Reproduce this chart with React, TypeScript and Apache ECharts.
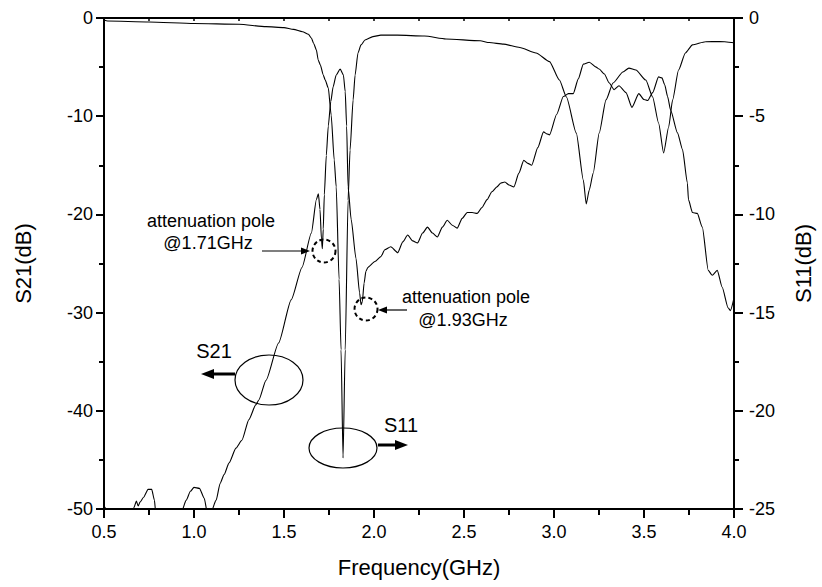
import React, { useEffect, useRef } from "react";
import * as echarts from "echarts";

// S21 (left axis, dB)
const s21Freq = [
  0.5, 0.505, 0.515, 0.55, 0.62, 0.655, 0.665, 0.68, 0.69, 0.7, 0.72, 0.745, 0.765, 0.78, 0.787, 0.82,
  0.9, 0.93, 0.957, 0.98, 1.0, 1.03, 1.057, 1.073, 1.085, 1.095, 1.123, 1.145, 1.167, 1.195, 1.233,
  1.266, 1.305, 1.343, 1.36, 1.4, 1.47, 1.54, 1.6, 1.652, 1.68, 1.691, 1.7, 1.708, 1.713, 1.718,
  1.724, 1.735, 1.746, 1.76, 1.773, 1.79, 1.812, 1.83, 1.84, 1.848, 1.856, 1.873, 1.9, 1.92, 1.928,
  1.935, 1.945, 1.955, 1.966, 2.005, 2.038, 2.06, 2.093, 2.132, 2.16, 2.187, 2.215, 2.242, 2.27,
  2.297, 2.325, 2.352, 2.38, 2.407, 2.435, 2.462, 2.49, 2.518, 2.545, 2.573, 2.6, 2.628, 2.655,
  2.683, 2.705, 2.727, 2.75, 2.777, 2.805, 2.832, 2.855, 2.876, 2.91, 2.942, 2.96, 2.975, 3.015,
  3.052, 3.08, 3.107, 3.135, 3.163, 3.196, 3.234, 3.251, 3.28, 3.306, 3.334, 3.361, 3.4, 3.433,
  3.471, 3.5, 3.521, 3.548, 3.581, 3.6, 3.615, 3.631, 3.648, 3.686, 3.714, 3.741, 3.747, 3.769,
  3.796, 3.824, 3.857, 3.879, 3.907, 3.934, 3.967, 3.98, 4.0,
];
const s21Db = [
  -50.3, -49.8, -50.3, -53, -54, -50.3, -49.9, -49.2, -49.7, -49.3, -48.8, -48.0, -48.0, -49.1, -50.3, -54,
  -53, -50.3, -49.1, -48.2, -47.8, -47.9, -48.9, -50.3, -51, -50.3, -49.1, -47.4, -46.5, -45.3, -43.8,
  -43.0, -40.9, -39.4, -38.9, -36.9, -33.1, -28.7, -25.4, -21.9, -18.5, -17.9, -19.5, -22.5, -23.5, -21.5,
  -18, -14, -11, -8.5, -7, -5.8, -5.2, -5.8, -7.5, -11, -17.2, -20.5, -24.5, -28.0, -29.2,
  -28.9, -27.0, -25.8, -25.4, -24.8, -24.3, -23.6, -23.3, -23.9, -22.8, -22.1, -22.7, -22.9, -21.9,
  -21.3, -21.9, -22.3, -21.3, -20.6, -21.1, -21.4, -20.4, -19.8, -19.8, -19.9, -19.3, -18.5, -17.7,
  -17.2, -16.8, -16.7, -17.0, -17.2, -15.8, -14.5, -14.8, -15.0, -13.2, -11.6, -11.8, -11.9, -9.8,
  -8.0, -7.7, -7.7, -6.2, -4.7, -4.5, -5.0, -5.2, -5.7, -6.6, -7.3, -6.9, -7.6, -9.1,
  -7.7, -8.3, -8.4, -7.6, -6.0, -6.1, -6.8, -8.0, -9.4, -11.7, -13.4, -16.8, -18.5, -19.8,
  -19.9, -21.3, -25.7, -26.2, -25.7, -27.4, -29.5, -29.8, -28.5,
];

// S11 (right axis, dB)
const s11Freq = [
  0.5, 0.52, 0.75, 1.0, 1.25, 1.4, 1.5, 1.553, 1.603, 1.636, 1.652, 1.665, 1.68, 1.69, 1.702, 1.718,
  1.729, 1.746, 1.762, 1.779, 1.79, 1.806, 1.817, 1.828, 1.84, 1.856, 1.867, 1.884, 1.895, 1.911,
  1.928, 1.95, 1.994, 2.038, 2.13, 2.28, 2.4, 2.59, 2.64, 2.72, 2.81, 2.9, 2.975, 3.03, 3.069,
  3.124, 3.163, 3.179, 3.196, 3.218, 3.251, 3.289, 3.328, 3.383, 3.416, 3.455, 3.51, 3.548, 3.581,
  3.609, 3.637, 3.659, 3.692, 3.73, 3.769, 3.841, 3.92, 4.0,
];
const s11Db = [
  -0.1, -0.15, -0.2, -0.28, -0.32, -0.44, -0.49, -0.58, -0.7, -0.83, -1.02, -1.3, -1.63, -2.14, -2.39, -2.9,
  -3.16, -3.56, -4.94, -7.23, -8.6, -13.3, -16.9, -22.4, -16.9, -9.27, -6.72, -4.17, -2.9, -1.78,
  -1.37, -1.12, -0.95, -0.87, -0.87, -0.92, -1.07, -1.16, -1.25, -1.33, -1.5, -1.78, -2.22, -3.16, -4.02,
  -5.86, -8.25, -9.47, -8.76, -7.89, -5.86, -4.17, -3.31, -2.75, -2.55, -2.65, -3.16, -4.02, -5.35,
  -6.87, -5.55, -4.17, -2.65, -1.78, -1.37, -1.21, -1.2, -1.26,
];

const xTickLabels = ["0.5", "1.0", "1.5", "2.0", "2.5", "3.0", "3.5", "4.0"];

const FONT = "'Liberation Sans', Arial, sans-serif";

export default function App() {
  const ref = useRef<HTMLDivElement>(null);

  useEffect(() => {
    if (!ref.current) return;
    const chart = echarts.init(ref.current, null, { renderer: "svg" });

    const mkLine = () => ({ show: true, onZero: false, lineStyle: { color: "#000000", width: 2 } });
    const mkTick = (len: number, inside = false, w = 2) => ({
      show: true,
      inside,
      length: len,
      lineStyle: { color: "#000000", width: w },
    });
    const mkMinor = (len: number) => ({
      show: true,
      splitNumber: 2,
      length: len,
      lineStyle: { color: "#000000", width: 2 },
    });
    const labelStyle = { color: "#000", fontSize: 18, fontFamily: FONT };
    const nameStyle = { color: "#000", fontSize: 22, fontFamily: FONT };

    const txt = (x: number, y: number, text: string, size = 18) => ({
      type: "text",
      x,
      y,
      style: { text, fill: "#000", font: `${size}px ${FONT}`, align: "center", verticalAlign: "middle" },
      z: 100,
    });
    const line = (x1: number, y1: number, x2: number, y2: number, w: number) => ({
      type: "line",
      shape: { x1, y1, x2, y2 },
      style: { stroke: "#000", lineWidth: w },
      z: 100,
    });
    const head = (pts: number[][]) => ({
      type: "polygon",
      shape: { points: pts },
      style: { fill: "#000" },
      z: 100,
    });

    chart.setOption({
      animation: false,
      backgroundColor: "#fff",
      grid: { left: 104, right: 83, top: 18, bottom: 78, containLabel: false },
      xAxis: [
        {
          type: "value",
          position: "bottom",
          min: 0.5,
          max: 4.0,
          interval: 0.5,
          name: "Frequency(GHz)",
          nameLocation: "middle",
          nameGap: 47,
          nameTextStyle: nameStyle,
          axisLine: mkLine(),
          axisTick: mkTick(9),
          minorTick: mkMinor(6),
          axisLabel: {
            ...labelStyle,
            margin: 14,
            formatter: (v: number) => {
              const i = Math.round((v - 0.5) / 0.5);
              return xTickLabels[i] ?? v.toFixed(1);
            },
          },
          splitLine: { show: false },
        },
        {
          type: "value",
          position: "top",
          min: 0.5,
          max: 4.0,
          interval: 0.25,
          axisLine: mkLine(),
          axisTick: mkTick(3, true, 1.5),
          axisLabel: { show: false },
          splitLine: { show: false },
        },
      ],
      yAxis: [
        {
          type: "value",
          position: "left",
          min: -50,
          max: 0,
          interval: 10,
          name: "S21(dB)",
          nameLocation: "middle",
          nameRotate: 90,
          nameGap: 70,
          nameTextStyle: nameStyle,
          axisLine: mkLine(),
          axisTick: mkTick(8),
          minorTick: mkMinor(5),
          axisLabel: { ...labelStyle, margin: 11 },
          splitLine: { show: false },
        },
        {
          type: "value",
          position: "right",
          min: -25,
          max: 0,
          interval: 5,
          name: "S11(dB)",
          nameLocation: "middle",
          nameRotate: 90,
          nameGap: 58,
          nameTextStyle: nameStyle,
          axisLine: mkLine(),
          axisTick: mkTick(9),
          minorTick: mkMinor(5),
          axisLabel: { ...labelStyle, margin: 15 },
          splitLine: { show: false },
        },
      ],
      series: [
        {
          name: "S21",
          type: "line",
          xAxisIndex: 0,
          yAxisIndex: 0,
          data: s21Freq.map((f, i) => [f, s21Db[i]]),
          showSymbol: false,
          smooth: 0.2,
          smoothMonotone: "x",
          clip: true,
          lineStyle: { color: "#000", width: 1.1 },
        },
        {
          name: "S11",
          type: "line",
          xAxisIndex: 0,
          yAxisIndex: 1,
          data: s11Freq.map((f, i) => [f, s11Db[i]]),
          showSymbol: false,
          smooth: 0.2,
          smoothMonotone: "x",
          clip: true,
          lineStyle: { color: "#000", width: 1.1 },
        },
      ],
      graphic: [
        // pole 1
        txt(211, 221, "attenuation pole"),
        txt(208, 243, "@1.71GHz"),
        line(262, 251, 303, 251, 1.2),
        head([[310, 251], [301, 247.5], [301, 254.5]]),
        {
          type: "circle",
          shape: { cx: 324, cy: 251, r: 11.5 },
          style: { fill: "none", stroke: "#000", lineWidth: 2, lineDash: [4, 3] },
          z: 100,
        },
        // pole 2
        txt(466, 297, "attenuation pole"),
        txt(463, 320, "@1.93GHz"),
        line(407, 310, 385, 310, 1.2),
        head([[378, 310], [387, 306.5], [387, 313.5]]),
        {
          type: "circle",
          shape: { cx: 366, cy: 309, r: 11.5 },
          style: { fill: "none", stroke: "#000", lineWidth: 2, lineDash: [4, 3] },
          z: 100,
        },
        // S21 marker
        {
          type: "ellipse",
          shape: { cx: 269, cy: 380, rx: 34, ry: 25 },
          style: { fill: "none", stroke: "#000", lineWidth: 1.2 },
          z: 100,
        },
        line(235, 374, 212, 374, 3),
        head([[201, 374], [214, 369], [214, 379]]),
        txt(214, 351, "S21", 20),
        // S11 marker
        {
          type: "ellipse",
          shape: { cx: 343, cy: 448, rx: 34, ry: 20 },
          style: { fill: "none", stroke: "#000", lineWidth: 1.2 },
          z: 100,
        },
        line(378, 445, 397, 445, 3),
        head([[408, 445], [395, 440], [395, 450]]),
        txt(401, 425, "S11", 20),
      ],
    });

    return () => chart.dispose();
  }, []);

  return (
    <div
      ref={ref}
      style={{ position: "absolute", left: 0, top: 0, width: 822, height: 587, background: "#fff" }}
    />
  );
}
